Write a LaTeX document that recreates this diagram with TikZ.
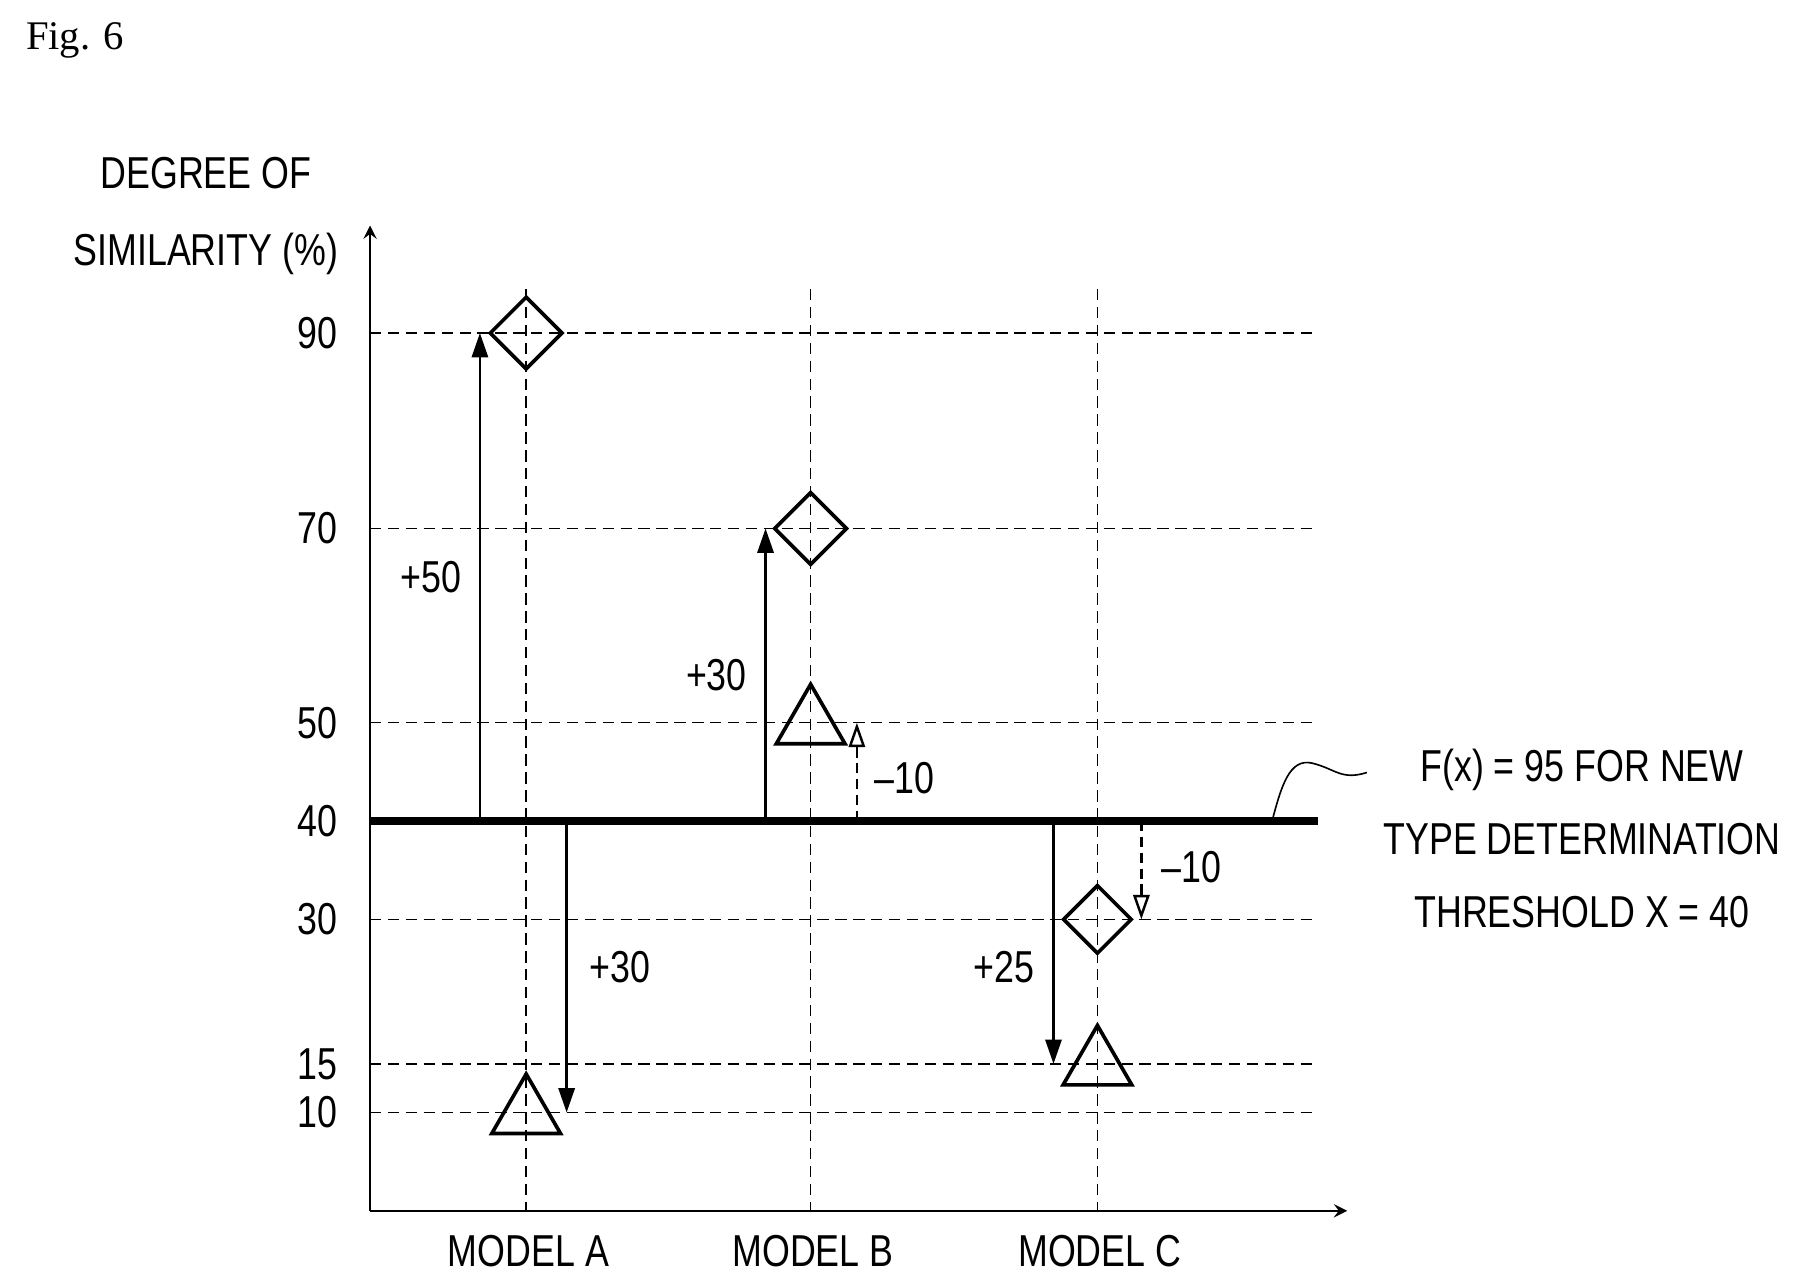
\documentclass[tikz,border=0pt]{standalone}
\usepackage{fontspec}
\setmainfont{Liberation Serif}
\setsansfont[FakeStretch=0.8]{Liberation Sans}
\usetikzlibrary{arrows.meta,shapes.geometric}

\tikzset{
  grid/.style={dashed, dash pattern=on 2.8pt off 1.6pt, line width=0.35pt},
  lab/.style={font=\sffamily\fontsize{11}{13}\selectfont},
  diam/.style={diamond, draw, line width=0.9pt, minimum size=18pt, inner sep=0pt},
  tri/.style={regular polygon, regular polygon sides=3, draw, line width=0.9pt, inner sep=0pt, minimum size=19.5pt},
  up/.style={-{Triangle[length=6pt,width=4pt]}, line width=0.6pt},
  delta/.style={-{Triangle[open,length=6pt,width=4pt]}, dashed, dash pattern=on 2.5pt off 1.4pt, line width=0.6pt}
}

\begin{document}
\begin{tikzpicture}[x=0.01cm, y=-0.01cm, >=stealth]
  \useasboundingbox (0,0) rectangle (1560,1112);

  % Titel
  \node[font=\fontsize{10}{12}\selectfont] (fig) at (65,35) {Fig. 6};

  % Achsen
  \coordinate (O) at (320,1047);
  \draw[->, line width=0.45pt] (O) -- (320,195);
  \draw[->, line width=0.45pt] (O) -- (1165,1047);
  \node[lab, align=center] (ylab) at (178,187) {DEGREE OF\\[6pt]SIMILARITY (\%)};

  % Hilfslinien
  \foreach \v/\y in {90/288, 70/457, 50/625, 30/795, 15/920, 10/962} {
    \draw[grid] (320,\y) -- (1140,\y);
    \node[lab, anchor=east] (t\v) at (304,\y) {\v};
  }
  \node[lab, anchor=east] (t40) at (304,710) {40};
  \foreach \m/\x in {A/455, B/701, C/949} {
    \draw[grid] (\x,250) -- (\x,1047);
    \node[lab] (m\m) at (\x+2,1082) {MODEL \m};
  }

  % Schwellenwert
  \draw[line width=1.8pt] (320,710) -- (1140,710);
  \coordinate (fx) at (1100,710);
  \node[lab, align=center] (flab) at (1368,725) {F(x) = 95 FOR NEW\\[5pt]TYPE DETERMINATION\\[5pt]THRESHOLD X = 40};
  \draw[line width=0.4pt] (fx) .. controls (1108,680) and (1115,655) .. (1135,660)
    .. controls (1155,665) and (1160,675) .. (1182,668);

  % Markierungen
  \node[diam] (dA) at (455,288) {};
  \node[diam] (dB) at (701,457) {};
  \node[diam, minimum size=17pt] (dC) at (949,795) {};
  \node[tri] (tA) at (455,963) {};
  \node[tri] (tB) at (701,626) {};
  \node[tri] (tC) at (949,921) {};

  % Verschiebungen
  \draw[up] (415,710) -- (415,288) node[lab, pos=0.5, left=1pt] {+50};
  \draw[up] (490,710) -- (490,962) node[lab, pos=0.5, right=2pt] {+30};
  \draw[up] (662,710) -- (662,457) node[lab, pos=0.5, left=1pt] {+30};
  \draw[up] (911,710) -- (911,920) node[lab, pos=0.6, left=1pt] {+25};
  \draw[delta] (741,710) -- (741,625);
  \node[lab] (dBl) at (782,673) {–10};
  \draw[delta] (987,710) -- (987,795);
  \node[lab] (dCl) at (1030,750) {–10};
\end{tikzpicture}
\end{document}
